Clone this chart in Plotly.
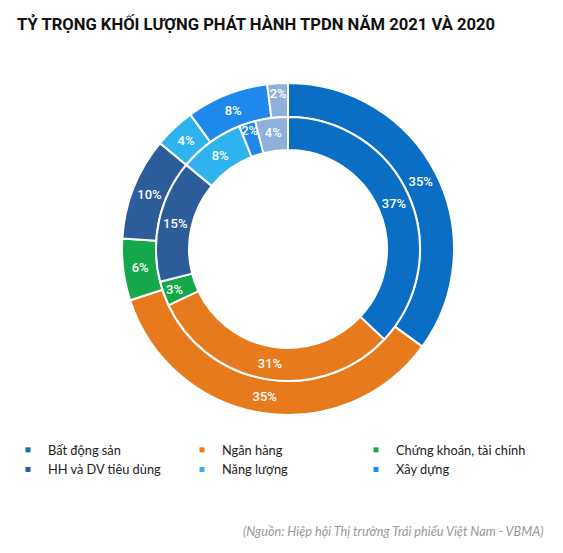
import plotly.graph_objects as go

# the page body adds an 8px margin, so the figure is drawn 8px in from the window corner
OFF = 8
FW, FH = 563 - OFF, 553 - OFF

sectors = ['Bất động sản', 'Ngân hàng', 'Chứng khoán, tài chính',
           'HH và DV tiêu dùng', 'Năng lượng', 'Xây dựng', 'Khác']
share_2021 = [35, 35, 6, 10, 4, 8, 2]   # outer ring
share_2020 = [37, 31, 3, 15, 8, 2, 4]   # inner ring
colors = ['#0a6fc4', '#e87a1e', '#14a84a', '#2c5d9a', '#2fb3ee', '#1e88ec', '#8eb0da']


def px(x):
    return (x - OFF) / FW


def py(y):
    return (FH - (y - OFF)) / FH


# ring geometry in window pixels
cx, cy = 288, 249
r_outer, r_mid, r_hole = 166, 132, 99


def dom(r):
    return dict(x=[px(cx - r), px(cx + r)], y=[py(cy + r), py(cy - r)])


fig = go.Figure()

for vals, r, hole in [(share_2021, r_outer, r_mid / r_outer),
                      (share_2020, r_mid, r_hole / r_mid)]:
    fig.add_trace(go.Pie(
        labels=sectors, values=vals, hole=hole, domain=dom(r),
        sort=False, direction='clockwise', rotation=0,
        marker=dict(colors=colors, line=dict(color='white', width=2)),
        texttemplate='%{value}%', textposition='inside',
        insidetextorientation='horizontal',
        textfont=dict(family='Roboto', size=13, color='white', weight=500),
        showlegend=False, hoverinfo='label+value',
    ))

# legend entries (small square markers), 6 sectors only
for name, c in zip(sectors[:6], colors[:6]):
    fig.add_trace(go.Scatter(
        x=[None], y=[None], mode='markers', name=name,
        marker=dict(symbol='square', size=5, color=c),
    ))

fig.update_layout(
    width=FW, height=FH,
    margin=dict(l=0, r=0, t=0, b=0),
    paper_bgcolor='white', plot_bgcolor='white',
    title=dict(text='TỶ TRỌNG KHỐI LƯỢNG PHÁT HÀNH TPDN NĂM 2021 VÀ 2020',
               x=px(17), xanchor='left', y=py(24), yanchor='middle',
               font=dict(family='Roboto', size=16.6, color='#111', weight='bold')),
    uniformtext=dict(minsize=13, mode='show'),
    xaxis=dict(visible=False), yaxis=dict(visible=False),
    legend=dict(orientation='h', x=0, xanchor='left', y=py(435), yanchor='top',
                entrywidth=129, entrywidthmode='pixels', traceorder='normal',
                font=dict(family='Lato', size=12.8, color='#222'),
                tracegroupgap=0),
    annotations=[dict(
        text='(Nguồn: Hiệp hội Thị trường Trái phiếu Việt Nam - VBMA)',
        x=px(545), y=py(531), xref='paper', yref='paper',
        xanchor='right', yanchor='middle', showarrow=False,
        font=dict(family='Lato', size=12.7, color='#999', style='italic'),
    )],
)

fig.write_html('out.html')
